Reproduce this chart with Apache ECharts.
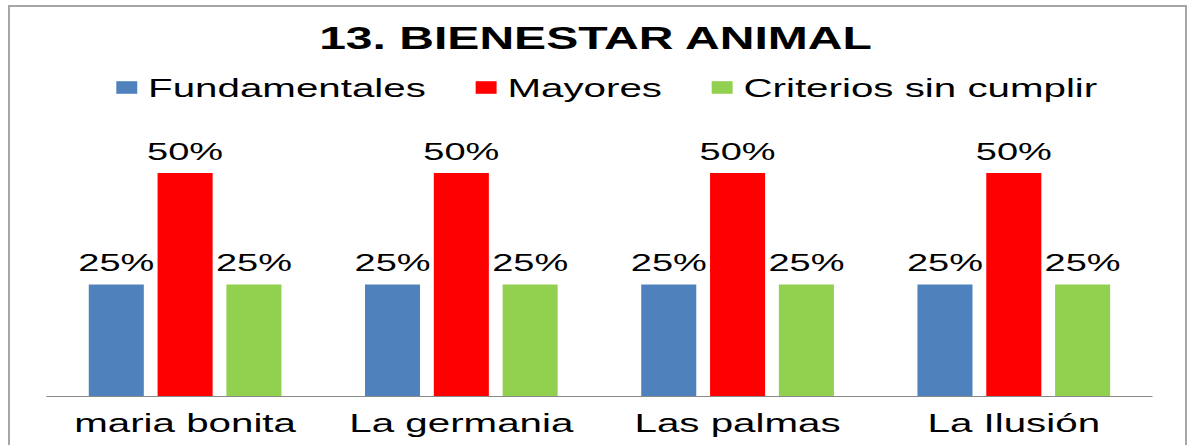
<!DOCTYPE html>
<html>
<head>
<meta charset="utf-8">
<script src="https://cdn.jsdelivr.net/npm/echarts@6/dist/echarts.min.js"></script>
<style>
  html, body { margin: 0; padding: 0; background: #ffffff; overflow: hidden; }
  #frame { position: absolute; left: 8px; top: 5px; width: 1179px; height: 500px;
           border: 2px solid #a6a6a6; box-sizing: border-box; }
  #chart { position: absolute; left: 0; top: 0; width: 768px; height: 445px;
           transform: scaleX(1.55078); transform-origin: 0 0; }
</style>
</head>
<body>
<div id="frame"></div>
<div id="chart"></div>
<script>
// ---- data ----
const titleText = '13. BIENESTAR ANIMAL';
const categories = ['maria bonita', 'La germania', 'Las palmas', 'La Ilusión'];
const seriesNames = ['Fundamentales', 'Mayores', 'Criterios sin cumplir'];
const fundamentales = [25, 25, 25, 25];
const mayores = [50, 50, 50, 50];
const criteriosSinCumplir = [25, 25, 25, 25];
const seriesColors = ['#4F81BD', '#FF0000', '#92D050'];

const font = "'Liberation Sans', Arial, sans-serif";
const chart = echarts.init(document.getElementById('chart'), null, { renderer: 'svg' });

const values = [fundamentales, mayores, criteriosSinCumplir];
const series = seriesNames.map((name, i) => ({
  name: name,
  type: 'bar',
  data: values[i],
  barWidth: 35.5,
  barGap: '25%',
  itemStyle: { color: seriesColors[i] },
  label: {
    show: true,
    position: 'top',
    distance: 9.5,
    formatter: '{c}%',
    color: '#000',
    fontFamily: font,
    fontSize: 24.5,
    lineHeight: 24
  }
}));

chart.setOption({
  animation: false,
  backgroundColor: 'transparent',
  title: {
    text: titleText,
    left: 'center',
    top: 22.7,
    padding: [0, 0, 0, 6],
    textStyle: { fontFamily: font, fontWeight: 'bold', fontSize: 31, lineHeight: 32, color: '#000' }
  },
  legend: {
    data: seriesNames,
    left: 75,
    top: 74.5,
    padding: 0,
    icon: 'rect',
    itemWidth: 13.5,
    itemHeight: 12.6,
    itemGap: 32,
    textStyle: { fontFamily: font, fontSize: 26, lineHeight: 26, color: '#000', padding: [0, 0, 0, 2] }
  },
  grid: { left: 30.3, right: 25.2, top: 128.4, bottom: 49, containLabel: false },
  xAxis: {
    type: 'category',
    data: categories,
    axisLine: { show: true, lineStyle: { color: '#888888', width: 1 } },
    axisTick: { show: false },
    axisLabel: { interval: 0, hideOverlap: false, fontFamily: font, fontSize: 26, lineHeight: 26, color: '#000', margin: 14 }
  },
  yAxis: {
    type: 'value',
    min: 0,
    max: 60,
    interval: 10,
    show: false,
    splitLine: { show: false }
  },
  series: series
});
</script>
</body>
</html>
